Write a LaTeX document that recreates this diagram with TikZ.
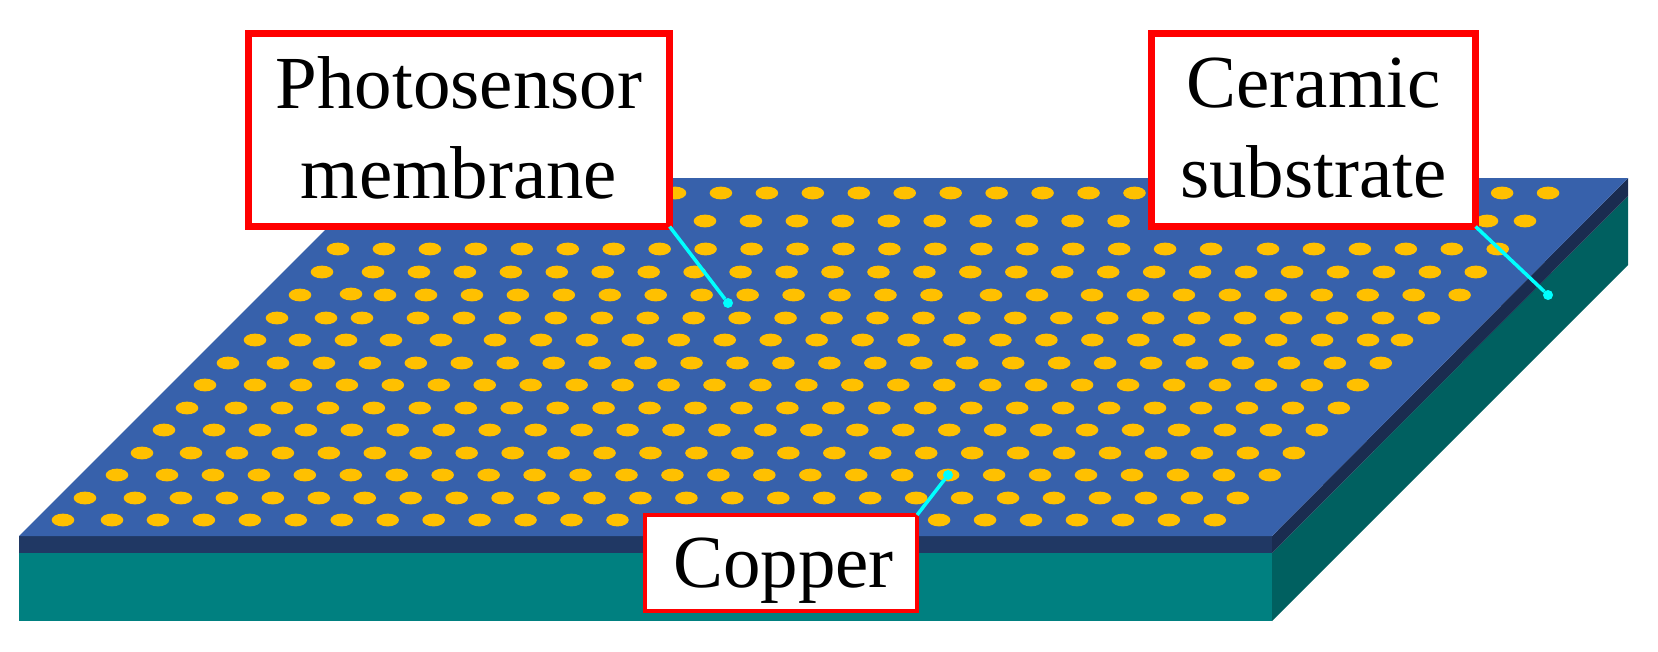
\documentclass[tikz,border=0pt]{standalone}
\usepackage{fontspec}
\setmainfont{Liberation Serif}
\definecolor{topblue}{HTML}{3761AB}
\definecolor{bandfront}{HTML}{203864}
\definecolor{bandside}{HTML}{1A2C50}
\definecolor{tealfront}{HTML}{008080}
\definecolor{tealside}{HTML}{006060}
\definecolor{padgold}{HTML}{FFC000}
\definecolor{leadcyan}{HTML}{00FFFF}
\tikzset{
    labelbox/.style={draw=red, fill=white, line width=2pt, align=center, inner sep=0pt, outer sep=0pt,
        font=\fontsize{21.3}{25.6}\selectfont},
    tipdot/.style={circle, fill=leadcyan, inner sep=0pt, outer sep=0pt, minimum size=0.1cm},
    leader/.style={draw=leadcyan, line width=1pt}
}

\begin{document}
\begin{tikzpicture}[x=0.01cm, y=-0.01cm]
    \useasboundingbox (0,0) rectangle (1658,651);
    % substrate and membrane
    \fill[tealfront] (19,553) rectangle (1272,621);
    \fill[bandfront] (19,536) rectangle (1272,553);
    \fill[tealside] (1272,553) -- (1628,196) -- (1628,265) -- (1272,621) -- cycle;
    \fill[bandside] (1272,536) -- (1628,178) -- (1628,196) -- (1272,553) -- cycle;
    \fill[topblue] (19,536) -- (377,178) -- (1628,178) -- (1272,536) -- cycle;
    % regular rows of pads: y / first x / last index
    \foreach \yy/\xs/\num in {193/675/19, 221/705/9, 221/1487/0, 249/338/19, 249/1268/5,
        272/373/24, 295/426/11, 295/1092/8, 318/418/22, 340/495/19, 363/278/24,
        385/255/24, 408/236/24, 430/214/24, 453/191/24, 475/167/24, 498/135/24, 520/112/24} {
        \foreach \k in {0,...,\num} {
            \fill[padgold] (\xs+45.95*\k, \yy) ellipse (11.3 and 6.4);
        }
    }
    % pads off the rows' spacing
    \foreach \xx/\yy in {1525/221, 322/272, 300/295, 351/294, 385/295, 991/295, 1037/295,
        277/318, 326/318, 362/318, 255/340, 300/340, 346/340, 391/340, 441/340, 1402/340,
        228/363, 205/385, 187/408, 164/430, 142/453, 117/475, 85/498, 63/520} {
        \fill[padgold] (\xx, \yy) ellipse (11.3 and 6.4);
    }
    % labels
    \node[labelbox, text depth=0.05cm, minimum width=4.21cm, minimum height=1.93cm] (membrane) at (459,130) {Photosensor\\membrane};
    \node[labelbox, text depth=0.05cm, minimum width=3.24cm, minimum height=1.93cm] (ceramic) at (1313.5,130) {Ceramic\\substrate};
    \node[labelbox, line width=1.1pt, text height=0.64cm, text depth=0.16cm, minimum width=2.72cm, minimum height=0.96cm] (copper) at (781,563) {\hspace*{0.05cm}Copper};
    % leaders
    \node[tipdot] (membranetip) at (728,303) {};
    \node[tipdot] (ceramictip) at (1548,295) {};
    \node[tipdot] (coppertip) at (948,475) {};
    \draw[leader] (membrane.south east) -- (membranetip);
    \draw[leader] (ceramic.south east) -- (ceramictip);
    \draw[leader] (copper.north east) -- (coppertip);
\end{tikzpicture}
\end{document}
